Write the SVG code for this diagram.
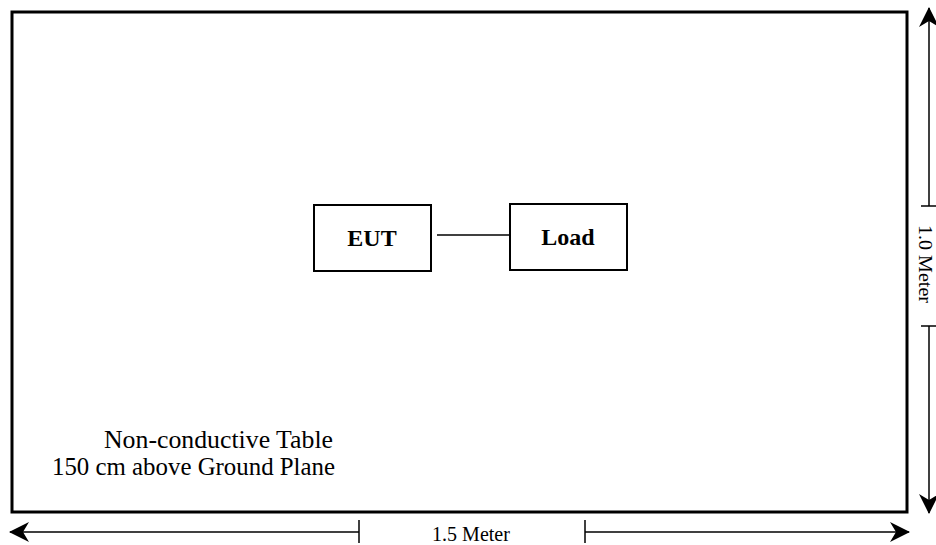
<svg xmlns="http://www.w3.org/2000/svg" width="936" height="545" viewBox="0 0 936 545">
<style>
.ln{stroke:#000;stroke-width:1.5;fill:none}
.box{fill:#fff;stroke:#000;stroke-width:2}
.b{font-family:"Liberation Serif",serif;font-weight:bold;font-size:24px;text-anchor:middle}
.t{font-family:"Liberation Serif",serif;font-size:25px}
.d{font-family:"Liberation Serif",serif;font-size:20px;text-anchor:middle}
</style>
<defs>
<marker id="ah" viewBox="0 0 20 20" refX="19" refY="10" markerWidth="20" markerHeight="20" markerUnits="userSpaceOnUse" orient="auto-start-reverse">
<path d="M0,0 L20,10 L0,20 L6,10 Z" fill="#000"/>
</marker>
</defs>
<rect x="12" y="12" width="895" height="500" fill="#fff" stroke="#000" stroke-width="3"/>
<g id="eut"><rect class="box" x="314" y="205" width="117" height="66"/><text class="b" x="372" y="246">EUT</text></g>
<g id="load"><rect class="box" x="510" y="204" width="117" height="66"/><text class="b" x="568" y="245">Load</text></g>
<g id="connectors"><line class="ln" x1="437" y1="235" x2="510" y2="235"/></g>
<g id="table-label">
<text class="t" x="104" y="448" textLength="229" lengthAdjust="spacingAndGlyphs">Non-conductive Table</text>
<text class="t" x="52" y="475" textLength="283" lengthAdjust="spacingAndGlyphs">150 cm above Ground Plane</text>
</g>
<g id="dim-h">
<line class="ln" x1="359" y1="532" x2="10" y2="532" marker-end="url(#ah)"/>
<line class="ln" x1="359" y1="520" x2="359" y2="543"/>
<line class="ln" x1="585" y1="532" x2="909" y2="532" marker-end="url(#ah)"/>
<line class="ln" x1="585" y1="520" x2="585" y2="543"/>
<text class="d" x="471" y="541">1.5 Meter</text>
</g>
<g id="dim-v">
<line class="ln" x1="929" y1="206" x2="929" y2="8" marker-end="url(#ah)"/>
<line class="ln" x1="921" y1="206" x2="937" y2="206"/>
<line class="ln" x1="929" y1="326" x2="929" y2="513" marker-end="url(#ah)"/>
<line class="ln" x1="921" y1="326" x2="937" y2="326"/>
<text class="d" style="font-size:18px" transform="translate(919,264) rotate(90)" x="0" y="0" textLength="78" lengthAdjust="spacingAndGlyphs">1.0 Meter</text>
</g>
</svg>
